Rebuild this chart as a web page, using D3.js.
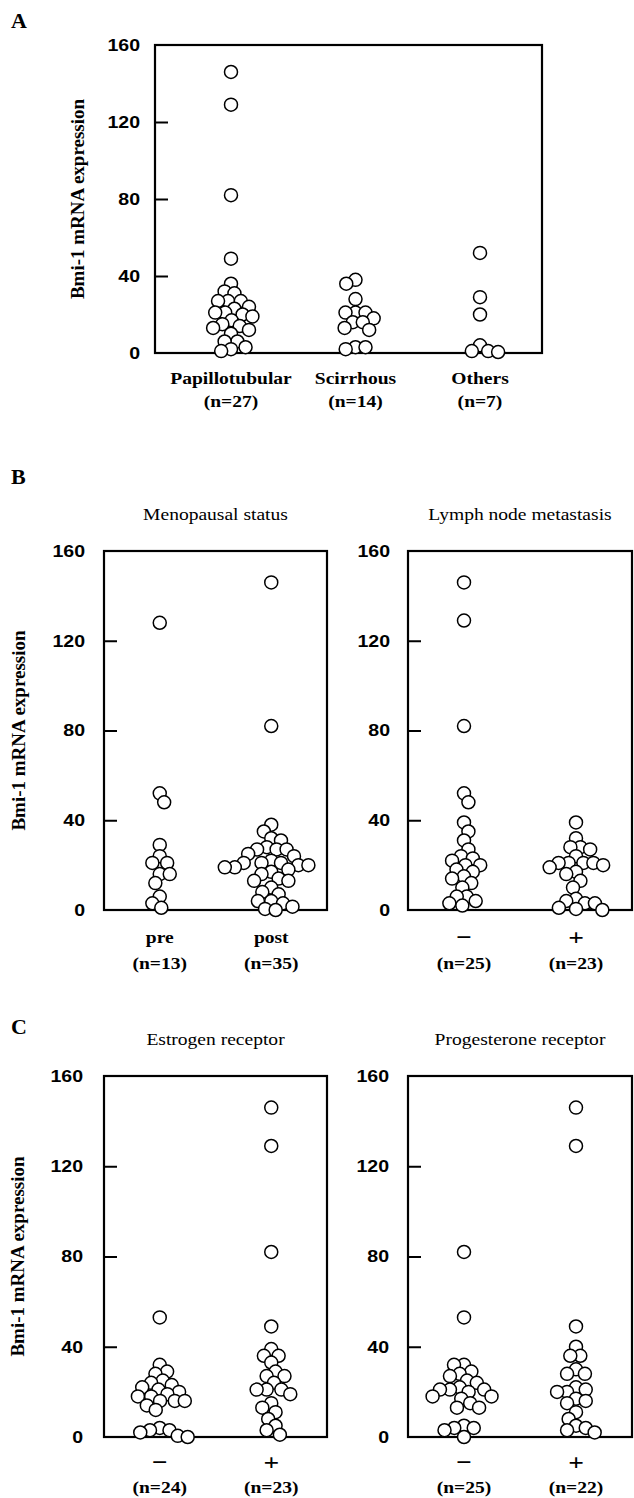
<!DOCTYPE html>
<html>
<head>
<meta charset="utf-8">
<title>Bmi-1 mRNA expression</title>
<style>
  body { margin: 0; background: #fff; }
  svg { display: block; font-family: "Liberation Serif", "Times New Roman", serif; }
  .frame { fill: none; stroke: #000; stroke-width: 2.2; }
  .dot { fill: #fff; stroke: #000; stroke-width: 1.5; }
  .tick line { stroke: #000; stroke-width: 2; }
  .tick text { font-size: 17px; font-weight: bold; fill: #000; }
  .lab { font-size: 17px; font-weight: bold; text-anchor: middle; }
  .sign { font-size: 24px; font-weight: bold; text-anchor: middle; }
  .title { font-size: 17px; text-anchor: middle; }
  .ylab { font-size: 19px; font-weight: bold; text-anchor: middle; }
  .letter { font-size: 22px; font-weight: bold; }
</style>
</head>
<body>
<div id="chart"></div>
<script src="https://d3js.org/d3.v7.min.js"></script>
<script>
var yTicks = [0, 40, 80, 120, 160];
var yLabel = 'Bmi-1 mRNA expression';

// A: histological type
var typeNames = ['Papillotubular', 'Scirrhous', 'Others'];
var typeCounts = ['(n=27)', '(n=14)', '(n=7)'];
var papillotubular = [146, 129, 82, 49, 36, 32, 31, 27, 27, 27, 24, 23, 21, 21, 20, 19, 17, 15, 14, 13, 12, 10, 6, 6, 3, 2, 1];
var scirrhous = [38, 36, 28, 21, 21, 21, 18, 16, 16, 13, 12, 3, 3, 2];
var others = [52, 29, 20, 4, 1, 1, 0.5];

// B: menopausal status / lymph node metastasis
var menoNames = ['pre', 'post'];
var menoCounts = ['(n=13)', '(n=35)'];
var pre = [128, 52, 48, 29, 24, 21, 21, 16, 16, 12, 6, 3, 1];
var post = [146, 82, 38, 35, 32, 31, 28, 27, 27, 27, 25, 24, 22, 21, 21, 21, 20, 20, 19, 19, 18, 17, 16, 14, 13, 13, 10, 8, 7, 4, 4, 3, 1.5, 0.5, 0];
var lymphNames = ['\u2212', '+'];
var lymphCounts = ['(n=25)', '(n=23)'];
var lymphNeg = [146, 129, 82, 52, 48, 39, 35, 31, 27, 24, 23, 22, 20, 20, 18, 17, 15, 14, 12, 10, 6, 6, 4, 3, 2];
var lymphPos = [39, 32, 28, 28, 27, 24, 21, 21, 21, 21, 20, 19, 17, 16, 13, 10, 5, 4, 3, 3, 1, 0.5, 0];

// C: estrogen / progesterone receptor
var erNames = ['\u2212', '+'];
var erCounts = ['(n=24)', '(n=23)'];
var erNeg = [53, 32, 29, 28, 25, 24, 23, 22, 21, 20, 19, 18, 18, 16, 16, 16, 14, 12, 4, 3, 3, 2, 0.5, 0];
var erPos = [146, 129, 82, 49, 39, 36, 36, 33, 29, 27, 27, 24, 21, 21, 21, 19, 15, 13, 11, 8, 5, 3, 1];
var pgrNames = ['\u2212', '+'];
var pgrCounts = ['(n=25)', '(n=22)'];
var pgrNeg = [82, 53, 32, 32, 29, 28, 27, 25, 24, 22, 21, 21, 21, 20, 18, 18, 17, 15, 13, 13, 5, 4, 4, 3, 0];
var pgrPos = [146, 129, 49, 40, 36, 36, 30, 28, 28, 22, 21, 20, 20, 17, 16, 15, 11, 8, 5, 4, 3, 2];

var W = 634, H = 1498;
var R = 6.5, D = 10;    // dot radius, spacing in the swarm
var SX = 1.15;          // the figure's text is a bit wide

var panels = [
  { letter: 'A', letterY: 28, names: typeNames, counts: typeCounts,
    groups: [papillotubular, scirrhous, others],
    x0: 155, x1: 542, yTop: 45, yBot: 353, catRange: [231, 480],
    labY: [384, 407], pad: 15, ylabX: 77 },
  { letter: 'B', letterY: 484, title: 'Menopausal status', titleY: 520,
    names: menoNames, counts: menoCounts, groups: [pre, post],
    x0: 104, x1: 327, yTop: 551, yBot: 910, labY: [943, 969], pad: 19, ylabX: 18 },
  { title: 'Lymph node metastasis', titleY: 520,
    names: lymphNames, counts: lymphCounts, groups: [lymphNeg, lymphPos],
    x0: 408, x1: 632, yTop: 551, yBot: 910, labY: [945, 969], pad: 18 },
  { letter: 'C', letterY: 1034, title: 'Estrogen receptor', titleY: 1045,
    names: erNames, counts: erCounts, groups: [erNeg, erPos],
    x0: 104, x1: 327, yTop: 1076, yBot: 1437, labY: [1470, 1493], pad: 21, ylabX: 17 },
  { title: 'Progesterone receptor', titleY: 1045,
    names: pgrNames, counts: pgrCounts, groups: [pgrNeg, pgrPos],
    x0: 408, x1: 632, yTop: 1076, yBot: 1437, labY: [1470, 1493], pad: 19 }
];

var svg = d3.select('#chart').append('svg')
  .attr('width', W)
  .attr('height', H);

// horizontal text, stretched a little like the original
function hText(x, y, str, cls) {
  return svg.append('text')
    .attr('class', cls)
    .attr('transform', 'translate(' + x + ',' + y + ') scale(' + SX + ',1)')
    .text(str);
}

// simple beeswarm: each dot goes as near the centre as it can
function swarm(values, y) {
  var pts = values.map(function(v) { return { v: v, y: y(v), x: 0 }; });
  pts.sort(function(a, b) { return a.y - b.y; });
  var placed = [];
  pts.forEach(function(p, k) {
    var cand = [0];
    placed.forEach(function(q) {
      var dy = p.y - q.y;
      if (Math.abs(dy) < D) {
        var dx = Math.sqrt(D * D - dy * dy);
        cand.push(q.x + dx, q.x - dx);
      }
    });
    var side = k % 2 ? 1 : -1;
    cand.sort(function(a, b) { return Math.abs(a) - Math.abs(b) || side * (a - b); });
    for (var i = 0; i < cand.length; i++) {
      var c = cand[i];
      var ok = placed.every(function(q) {
        return (c - q.x) * (c - q.x) + (p.y - q.y) * (p.y - q.y) >= D * D - 0.01;
      });
      if (ok) { p.x = c; break; }
    }
    placed.push(p);
  });
  return pts;
}

panels.forEach(function(pn) {
  var y = d3.scaleLinear().domain([0, 160]).range([pn.yBot, pn.yTop]);
  var x = d3.scalePoint().domain(pn.names)
    .range(pn.catRange || [pn.x0, pn.x1])
    .padding(pn.catRange ? 0 : 0.5);

  if (pn.letter) {
    svg.append('text').attr('class', 'letter')
      .attr('x', 11).attr('y', pn.letterY).text(pn.letter);
  }
  if (pn.title) {
    hText((pn.x0 + pn.x1) / 2, pn.titleY, pn.title, 'title');
  }
  if (pn.ylabX) {
    svg.append('text').attr('class', 'ylab')
      .attr('transform', 'translate(' + pn.ylabX + ',' + ((pn.yTop + pn.yBot) / 2) + ') rotate(-90)')
      .attr('dy', '0.35em')
      .text(yLabel);
  }

  // inward ticks on the left side
  var ax = svg.append('g')
    .attr('transform', 'translate(' + pn.x0 + ',0)')
    .call(d3.axisLeft(y).tickValues(yTicks).tickSize(-13).tickPadding(pn.pad));
  ax.select('.domain').remove();
  ax.selectAll('.tick line').filter(function(d) { return d === 0 || d === 160; }).remove();
  ax.selectAll('.tick text')
    .attr('font-family', null).attr('font-size', null)
    .attr('x', -pn.pad / SX)
    .attr('transform', 'scale(' + SX + ',1)');

  svg.append('rect').attr('class', 'frame')
    .attr('x', pn.x0).attr('y', pn.yTop)
    .attr('width', pn.x1 - pn.x0).attr('height', pn.yBot - pn.yTop);

  pn.groups.forEach(function(vals, gi) {
    var cx = x(pn.names[gi]);
    svg.append('g').selectAll('circle')
      .data(swarm(vals, y))
      .enter().append('circle')
      .attr('class', 'dot')
      .attr('cx', function(d) { return cx + d.x; })
      .attr('cy', function(d) { return d.y; })
      .attr('r', R);

    var name = pn.names[gi];
    var isSign = name === '+' || name === '\u2212';
    hText(cx, pn.labY[0], name, isSign ? 'sign' : 'lab');
    hText(cx, pn.labY[1], pn.counts[gi], 'lab');
  });
});
</script>
</body>
</html>
